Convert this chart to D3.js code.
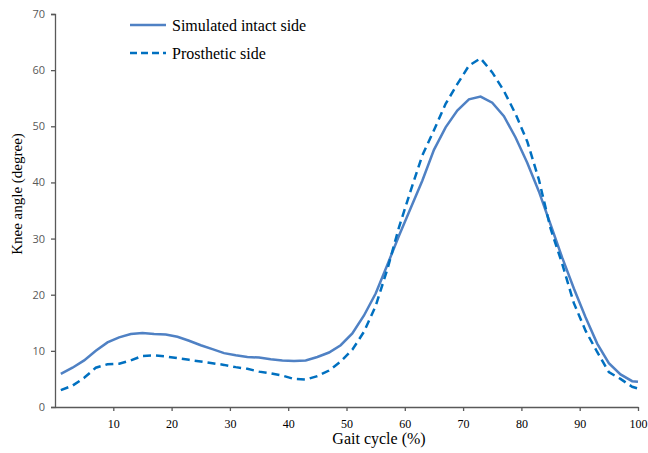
<!DOCTYPE html>
<html>
<head>
<meta charset="utf-8">
<script src="https://cdn.jsdelivr.net/npm/d3@7"></script>
<style>
  body { margin: 0; background: #fff; }
  svg { display: block; }
  .serif { font-family: "Liberation Serif", "DejaVu Serif", Times, serif; }
  .sans { font-family: "Open Sans", "DejaVu Sans", sans-serif; }
</style>
</head>
<body>
<div id="chart"></div>
<script>
// gait cycle (%) sample positions
const gaitX = [1, 3, 5, 7, 9, 11, 13, 15, 17, 19, 21, 23, 25, 27, 29, 31, 33, 35, 37, 39,
               41, 43, 45, 47, 49, 51, 53, 55, 57, 59, 61, 63, 65, 67, 69, 71, 73, 75, 77, 79,
               81, 83, 85, 87, 89, 91, 93, 95, 97, 99, 100];

// knee angle (degree)
const intactSide = [5.9, 7.0, 8.3, 10.0, 11.5, 12.4, 13.0, 13.2, 13.0, 12.9, 12.5, 11.8, 11.0, 10.3, 9.6, 9.2, 8.9, 8.8, 8.5, 8.3,
                    8.2, 8.3, 8.9, 9.7, 11.0, 13.1, 16.3, 20.2, 25.3, 30.5, 35.4, 40.3, 45.8, 49.8, 52.8, 54.8, 55.3, 54.2, 51.8, 48.0,
                    43.5, 38.4, 32.5, 26.6, 21.1, 16.0, 11.3, 7.8, 5.8, 4.6, 4.5];
const prostheticSide = [3.0, 3.8, 5.2, 7.0, 7.6, 7.7, 8.3, 9.1, 9.2, 9.0, 8.7, 8.4, 8.1, 7.8, 7.5, 7.1, 6.8, 6.3, 6.0, 5.6,
                        5.0, 4.9, 5.5, 6.5, 8.1, 10.2, 13.4, 18.0, 24.5, 32.0, 38.5, 44.8, 49.3, 54.0, 57.5, 60.8, 62.1, 59.6, 56.3, 52.2,
                        47.3, 40.5, 31.8, 25.5, 18.5, 13.6, 9.8, 6.2, 5.0, 3.6, 3.3];

const xTicks = [10, 20, 30, 40, 50, 60, 70, 80, 90, 100];
const yTicks = [0, 10, 20, 30, 40, 50, 60, 70];

const seriesNames = ["Simulated intact side", "Prosthetic side"];

const W = 648, H = 453;
const margin = { top: 14, right: 10, bottom: 46, left: 55 };
const plotW = 638 - margin.left;
const plotH = 407 - margin.top;

const svg = d3.select("#chart").append("svg")
    .attr("width", W)
    .attr("height", H);

const g = svg.append("g")
    .attr("transform", `translate(${margin.left},${margin.top})`);

const x = d3.scaleLinear().domain([0, 100]).range([0, plotW]);
const y = d3.scaleLinear().domain([0, 70]).range([plotH, 0]);

const axisColor = "#595959";

// y axis
const yAxis = g.append("g")
    .call(d3.axisLeft(y).tickValues(yTicks).tickSize(4).tickPadding(6))
    .attr("font-family", null);
yAxis.select(".domain").attr("stroke", axisColor).attr("stroke-width", 1.3);
yAxis.selectAll(".tick line").attr("stroke", axisColor).attr("stroke-width", 1.3);
yAxis.selectAll(".tick text")
    .attr("class", "sans")
    .attr("fill", "#595959")
    .style("font-size", "11px");

// x axis
const xAxis = g.append("g")
    .attr("transform", `translate(0,${plotH})`)
    .call(d3.axisBottom(x).tickValues(xTicks).tickSize(4).tickSizeOuter(0).tickPadding(8))
    .attr("font-family", null);
xAxis.select(".domain").attr("stroke", axisColor).attr("stroke-width", 1.3);
xAxis.selectAll(".tick line").attr("stroke", axisColor).attr("stroke-width", 1.3);
xAxis.selectAll(".tick text")
    .attr("class", "serif")
    .attr("fill", "#000")
    .style("font-size", "12px");

// axis titles
svg.append("text")
    .attr("class", "serif")
    .attr("x", 379)
    .attr("y", 444)
    .attr("text-anchor", "middle")
    .style("font-size", "16px")
    .text("Gait cycle (%)");

svg.append("text")
    .attr("class", "serif")
    .attr("transform", "translate(22,194) rotate(-90)")
    .attr("text-anchor", "middle")
    .style("font-size", "15px")
    .text("Knee angle (degree)");

// lines
const line = d3.line()
    .x(d => x(d[0]))
    .y(d => y(d[1]));

const series = [
    { name: seriesNames[0], values: d3.zip(gaitX, intactSide), color: "#4f81c4", dash: null },
    { name: seriesNames[1], values: d3.zip(gaitX, prostheticSide), color: "#0070c0", dash: "8,5" }
];

series.forEach(s => {
    g.append("path")
        .datum(s.values)
        .attr("fill", "none")
        .attr("stroke", s.color)
        .attr("stroke-width", 2.5)
        .attr("stroke-dasharray", s.dash)
        .attr("d", line);
});

// legend
const legend = svg.append("g").attr("transform", "translate(130,25)");
series.forEach((s, i) => {
    const row = legend.append("g").attr("transform", `translate(0,${i * 28})`);
    row.append("line")
        .attr("x1", 0).attr("x2", 36)
        .attr("y1", 0).attr("y2", 0)
        .attr("stroke", s.color)
        .attr("stroke-width", 2.5)
        .attr("stroke-dasharray", s.dash ? "7,4" : null);
    row.append("text")
        .attr("class", "serif")
        .attr("x", 42)
        .attr("y", 6)
        .style("font-size", "16px")
        .text(s.name);
});
</script>
</body>
</html>
